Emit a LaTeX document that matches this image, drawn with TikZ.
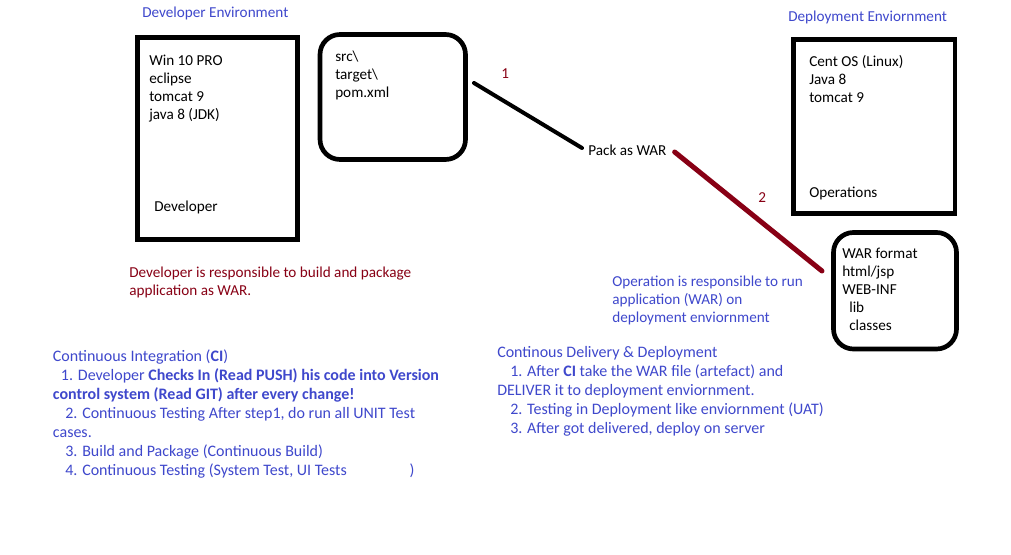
\documentclass[tikz,border=0pt]{standalone}
\usepackage{fontspec}
\setmainfont{Carlito}
\usetikzlibrary{calc}
\definecolor{notesblue}{HTML}{3F48CC}
\definecolor{notesred}{HTML}{880015}

\begin{document}
\begin{tikzpicture}[x=0.75pt,y=-0.75pt,
    every node/.style={inner sep=0pt, font=\fontsize{11.4}{13.5}\selectfont},
    envbox/.style={draw, line width=3.5pt, outer sep=0pt},
    roundbox/.style={envbox, rounded corners=15pt},
    lines/.style={anchor=north west, align=left},
    note/.style={lines, text=notesblue, font=\fontsize{12}{14.25}\selectfont},
    wire/.style={line width=3pt, line cap=round}]
  \path[fill=white, use as bounding box] (0,0) rectangle (1011,555);

  % the four boxes
  \node[envbox, minimum width=120pt, minimum height=151.5pt] (devbox) at (217.5,138.5) {};
  \node[roundbox, minimum width=109.1pt, minimum height=93.75pt] (srcbox) at (392.75,97) {};
  \node[envbox, minimum width=121.1pt, minimum height=130.5pt] (depbox) at (874.25,126.5) {};
  \node[roundbox, minimum width=92.25pt, minimum height=87.4pt] (warbox) at (895,290.75) {};

  % titles and box contents
  \node[anchor=west, text=notesblue] (devtitle) at (142,13.8) {Developer Environment};
  \node[anchor=west, text=notesblue] (deptitle) at (788,17.5) {Deployment Enviornment};
  \node[lines] (devlist) at (149,55.2) {Win 10 PRO\\eclipse\\tomcat 9\\java 8 (JDK)};
  \node[anchor=west] (devrole) at (154,207.2) {Developer};
  \node[lines] (srclist) at (335,50.7) {src\textbackslash\\target\textbackslash\\pom.xml};
  \node[lines] (deplist) at (809,54.7) {Cent OS (Linux)\\Java 8\\tomcat 9};
  \node[anchor=west] (deprole) at (809,193.5) {Operations};
  \node[lines] (warlist) at (842,247.7) {WAR format\\html/jsp\\WEB-INF\\\hspace*{5.25pt}lib\\\hspace*{5.25pt}classes};

  % packing step
  \node[anchor=west] (pack) at (588,150.5) {Pack as WAR};
  \node[anchor=west, text=notesred] (one) at (501,73.5) {1};
  \node[anchor=west, text=notesred] (two) at (758,197.5) {2};
  \coordinate (w1a) at ($(srcbox.east)+(8.5,-14)$);
  \coordinate (w1b) at ($(pack.west)+(-6,-2.5)$);
  \coordinate (w2a) at ($(pack.east)+(8,1.5)$);
  \coordinate (w2b) at ($(warbox.west)+(-11.5,-19.75)$);
  \draw[wire] (w1a) -- (w1b);
  \draw[wire, notesred, line width=3.75pt] (w2a) -- (w2b);

  % notes
  \node[lines, text=notesred] (devnote) at (129,266.2) {Developer is responsible to build and package\\application as WAR.};
  \node[lines, text=notesblue] (opnote) at (612,275.5) {Operation is responsible to run\\application (WAR) on\\deployment enviornment};
  \node[note] (cinote) at (52.7,350) {Continuous Integration (\textbf{CI})\\
    \hspace*{6pt}1. Developer \textbf{Checks In (Read PUSH) his code into Version}\\
    \textbf{control system (Read GIT) after every change!}\\
    \hspace*{9.25pt}2. Continuous Testing After step1, do run all UNIT Test\\
    cases.\\
    \hspace*{9.25pt}3. Build and Package (Continuous Build)\\
    \hspace*{9.25pt}4. Continuous Testing (System Test, UI Tests\hspace{47pt})};
  \node[note] (cdnote) at (497,346.3) {Continous Delivery \& Deployment\\
    \hspace*{9.75pt}1. After \textbf{CI} take the WAR file (artefact) and\\
    DELIVER it to deployment enviornment.\\
    \hspace*{9.75pt}2. Testing in Deployment like enviornment (UAT)\\
    \hspace*{9.75pt}3. After got delivered, deploy on server};
\end{tikzpicture}
\end{document}
